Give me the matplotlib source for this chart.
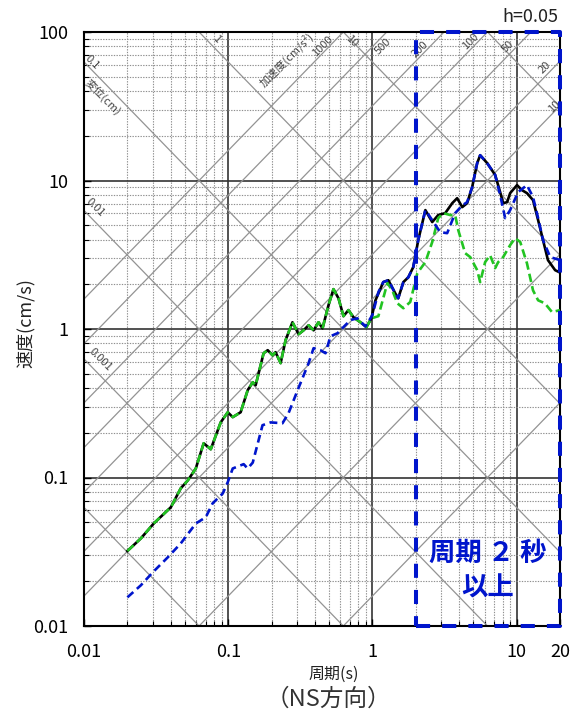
import numpy as np
import matplotlib
matplotlib.use("Agg")
import matplotlib.pyplot as plt
import matplotlib.ticker as mticker

plt.rcParams['font.family'] = ['Noto Sans CJK JP', 'DejaVu Sans']

# ---- data (period s, velocity cm/s) ----
# common part of black / green up to T ~ 1 s
t_common = [0.02, 0.0248, 0.0305, 0.040, 0.0469, 0.0525, 0.0596, 0.0676, 0.0757, 0.0887,
            0.0993, 0.1075, 0.122, 0.1365, 0.148, 0.155, 0.176, 0.188, 0.203, 0.213,
            0.231, 0.25, 0.279, 0.308, 0.333, 0.361, 0.391, 0.423, 0.451, 0.496,
            0.537, 0.582, 0.63, 0.682, 0.739, 0.826, 0.909, 0.984]
v_common = [0.032, 0.0389, 0.0491, 0.063, 0.0846, 0.0957, 0.115, 0.170, 0.155, 0.235,
            0.275, 0.255, 0.275, 0.387, 0.438, 0.418, 0.687, 0.72, 0.665, 0.698,
            0.589, 0.841, 1.11, 0.923, 0.98, 1.06, 0.98, 1.11, 1.01, 1.446,
            1.855, 1.61, 1.22, 1.34, 1.2, 1.11, 1.03, 1.18]

t_black = [1.05, 1.19, 1.29, 1.44, 1.51, 1.64, 1.775, 1.92, 2.08, 2.33, 2.60, 2.86, 3.2,
           3.58, 3.87, 4.2, 4.54, 4.92, 5.33, 5.59, 6.25, 7.1, 7.69, 8.07, 8.6, 9.02,
           10.07, 10.9, 11.8, 13.0, 14.1, 15.25, 16.5, 18.5, 20]
v_black = [1.56, 2.07, 2.13, 1.74, 1.61, 2.07, 2.23, 2.61, 3.97, 6.32, 5.25, 5.85, 6.03,
           7.04, 7.6, 6.62, 7.04, 9.03, 13.1, 14.8, 13.1, 10.9, 8.35, 7.04, 7.15, 8.22,
           9.31, 8.61, 8.22, 7.38, 5.41, 3.97, 2.91, 2.49, 2.4]

t_green = [1.10, 1.27, 1.375, 1.49, 1.64, 1.83, 2.05, 2.33, 2.60, 2.86, 3.10, 3.47, 3.75,
           3.94, 4.40, 4.77, 5.33, 5.59, 6.05, 6.55, 7.1, 7.45, 8.07, 9.02, 9.77, 10.6,
           11.8, 13.0, 14.1, 15.7, 17.6, 20]
v_green = [1.22, 2.04, 1.82, 1.49, 1.38, 1.52, 2.38, 2.82, 3.85, 5.58, 6.03, 5.85, 5.85,
           4.63, 3.24, 3.05, 2.49, 2.07, 2.82, 3.14, 2.57, 2.82, 3.05, 3.67, 4.09, 3.85,
           2.77, 1.82, 1.56, 1.49, 1.30, 1.34]

t_blue = [0.02, 0.0248, 0.030, 0.0381, 0.0469, 0.0596, 0.0699, 0.078, 0.0916, 0.0993,
          0.1075, 0.128, 0.1365, 0.148, 0.173, 0.197, 0.238, 0.262, 0.303, 0.361, 0.391,
          0.436, 0.473, 0.512, 0.573, 0.63, 0.705, 0.787, 0.895, 1.0, 1.10,
          1.19, 1.29, 1.44, 1.51, 1.64, 1.775, 1.92, 2.08, 2.33, 2.60, 2.95, 3.30, 3.75,
          4.2, 4.54, 4.92, 5.33, 5.59, 6.25, 7.1, 7.69, 8.33, 9.02, 10.24, 11.8, 13.0,
          14.1, 15.25, 17.1, 20]
v_blue = [0.0156, 0.0188, 0.023, 0.029, 0.036, 0.049, 0.054, 0.067, 0.078, 0.093,
          0.115, 0.123, 0.115, 0.126, 0.225, 0.235, 0.232, 0.271, 0.387, 0.589, 0.743,
          0.72, 0.687, 0.894, 0.937, 1.03, 1.15, 1.18, 1.04, 1.24, 1.77,
          2.07, 2.13, 1.74, 1.61, 2.07, 2.23, 2.61, 3.97, 6.32, 5.41, 4.49, 4.42, 6.03,
          6.8, 7.15, 9.03, 13.1, 14.8, 13.1, 10.9, 8.0, 5.58, 6.32, 8.35, 9.31, 7.73,
          5.58, 3.97, 3.05, 2.91]

# tripartite guide lines
acc_lines = [0.1, 1, 10, 20, 50, 100, 200, 500, 1000]     # cm/s^2
disp_lines = [0.0001, 0.001, 0.01, 0.1, 1, 10, 100]       # cm

xticks = [0.01, 0.1, 1, 10, 20]
xticklabels = ["0.01", "0.1", "1", "10", "20"]
yticks = [0.01, 0.1, 1, 10, 100]
yticklabels = ["0.01", "0.1", "1", "10", "100"]

BLUE = "#0015CC"
GREEN = "#22C422"

fig = plt.figure(figsize=(5.75, 7.11), dpi=100)
ax = fig.add_axes([84 / 575, 85 / 711, 476 / 575, 594 / 711])
ax.set_xscale("log")
ax.set_yscale("log")
ax.set_xlim(0.01, 20)
ax.set_ylim(0.01, 100)

ax.grid(which="major", color="#333333", lw=1.2, ls="-", zorder=0)
ax.grid(which="minor", color="#8f8f8f", lw=0.8, ls=(0, (1.2, 1.2)), zorder=0)
ax.set_axisbelow(True)

tt = np.array([0.01, 20.0])
for a in acc_lines:
    ax.plot(tt, a * tt / (2 * np.pi), color="#939393", lw=0.9, zorder=1)
for d in disp_lines:
    ax.plot(tt, 2 * np.pi * d / tt, color="#939393", lw=0.9, zorder=1)

ax.plot(t_common + t_black, v_common + v_black, color="black", lw=1.9, zorder=3,
        solid_joinstyle="round")
ax.plot(t_common + t_green, v_common + v_green, color=GREEN, lw=1.9, zorder=4,
        dashes=(3.2, 1.6))
ax.plot(t_blue, v_blue, color=BLUE, lw=1.9, zorder=5, dashes=(3.0, 1.8))

# highlighted long-period box
bx = [2, 20, 20, 2, 2]
by = [0.01, 0.01, 100, 100, 0.01]
ax.plot(bx, by, color=BLUE, lw=2.9, dashes=(3.5, 3.0), clip_on=False, zorder=6)
ax.text(0.848, 0.093, "周期 ２ 秒\n以上", transform=ax.transAxes, ha="center",
        va="center", fontsize=19, fontweight="bold", color=BLUE, linespacing=1.4,
        zorder=7)

# labels of the guide lines (axes fraction)
gl = dict(transform=ax.transAxes, fontsize=8, color="#444444", ha="center",
          va="center", zorder=2)
ax.text(0.017, 0.949, "0.1", rotation=-45, **gl)
ax.text(0.040, 0.890, "変位(cm)", rotation=-45, **gl)
ax.text(0.023, 0.705, "0.01", rotation=-45, **gl)
ax.text(0.034, 0.448, "0.001", rotation=-45, **gl)
ax.text(0.279, 0.988, "1", rotation=-45, **gl)
ax.text(0.563, 0.985, "10", rotation=-45, **gl)
ax.text(0.426, 0.953, "加速度(cm/s²)", rotation=45, **gl)
ax.text(0.502, 0.976, "1000", rotation=45, **gl)
ax.text(0.628, 0.975, "500", rotation=45, **gl)
ax.text(0.706, 0.970, "200", rotation=45, **gl)
ax.text(0.811, 0.985, "100", rotation=45, **gl)
ax.text(0.891, 0.976, "50", rotation=45, **gl)
ax.text(0.968, 0.941, "20", rotation=45, **gl)
ax.text(0.987, 0.875, "10", rotation=45, **gl)

ax.set_xticks(xticks)
ax.set_xticklabels(xticklabels)
ax.set_yticks(yticks)
ax.set_yticklabels(yticklabels)
ax.xaxis.set_minor_locator(mticker.LogLocator(base=10, subs=np.arange(2, 10)))
ax.yaxis.set_minor_locator(mticker.LogLocator(base=10, subs=np.arange(2, 10)))
ax.xaxis.set_minor_formatter(mticker.NullFormatter())
ax.yaxis.set_minor_formatter(mticker.NullFormatter())
ax.tick_params(which="both", direction="in", top=False, right=False)
ax.tick_params(which="major", length=5, width=1.0)
ax.tick_params(which="minor", length=3.5, width=0.8)
ax.tick_params(axis="x", which="major", labelsize=13, pad=12)
ax.tick_params(axis="y", which="major", labelsize=13, pad=11)
for s in ax.spines.values():
    s.set_linewidth(1.5)
    s.set_color("black")

fig.text(334 / 575, 1 - 674 / 711, "周期(s)", ha="center", va="center", fontsize=11.5,
         color="#222222")
fig.text(26 / 575, 1 - 323 / 711, "速度(cm/s)", ha="center", va="center", rotation=90,
         fontsize=13, color="#222222")
fig.text(530 / 575, 1 - 17 / 711, "h=0.05", ha="center", va="center", fontsize=13,
         color="#222222")
fig.text(328 / 575, 1 - 699 / 711, "（NS方向）", ha="center", va="center", fontsize=17,
         color="#333333")

fig.savefig("out.png", dpi=100)
